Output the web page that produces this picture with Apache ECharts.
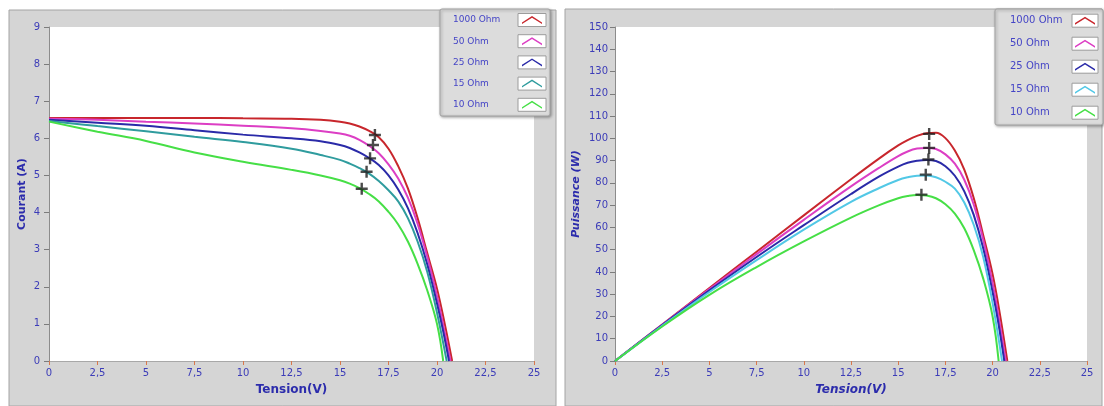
<!DOCTYPE html>
<html>
<head>
<meta charset="utf-8">
<script src="https://cdn.jsdelivr.net/npm/echarts@6/dist/echarts.min.js"></script>
<style>
html, body { margin: 0; padding: 0; background: #fff; }
#main { width: 1104px; height: 406px; }
</style>
</head>
<body>
<div id="main"></div>
<script>
var noms = ['1000 Ohm', '50 Ohm', '25 Ohm', '15 Ohm', '10 Ohm'];

// tensions communes (V)
var tension = [0, 2.5, 5, 7.5, 10, 12.5, 14, 15, 15.5, 16, 16.5, 17, 17.5, 18, 18.5, 19, 19.5, 20];
// fin de chaque courbe jusqu'a Vco
var tensionFin1000 = [20.4, 20.78];
var tensionFin50 = [20.35, 20.7];
var tensionFin25 = [20.3, 20.62];
var tensionFin15 = [20.5];
var tensionFin10 = [20.32];

// courant (A)
var courant1000 = [6.55, 6.55, 6.55, 6.55, 6.54, 6.53, 6.5, 6.45, 6.4, 6.32, 6.2, 6.03, 5.72, 5.25, 4.65, 3.85, 2.9, 1.95, 1.0, 0];
var courant50 = [6.53, 6.5, 6.45, 6.4, 6.34, 6.27, 6.2, 6.13, 6.07, 5.96, 5.8, 5.6, 5.3, 4.92, 4.4, 3.7, 2.8, 1.75, 0.9, 0];
var courant25 = [6.5, 6.42, 6.34, 6.22, 6.1, 6.0, 5.92, 5.82, 5.74, 5.62, 5.47, 5.28, 5.0, 4.62, 4.12, 3.45, 2.6, 1.55, 0.85, 0];
var courant15 = [6.47, 6.33, 6.19, 6.04, 5.9, 5.72, 5.55, 5.42, 5.32, 5.2, 5.05, 4.85, 4.6, 4.3, 3.85, 3.22, 2.4, 1.3, 0];
var courant10 = [6.45, 6.18, 5.93, 5.62, 5.37, 5.15, 5.0, 4.87, 4.78, 4.66, 4.5, 4.3, 4.02, 3.68, 3.22, 2.62, 1.9, 1.0, 0];

// puissance (W)
var puissance1000 = [0, 16.4, 32.8, 49.1, 65.4, 81.6, 91.0, 96.8, 99.2, 101.1, 102.3, 102.5, 100.1, 94.5, 86.0, 73.2, 56.6, 39.0, 20.4, 0];
var puissance50 = [0, 16.3, 32.3, 48.0, 63.4, 78.4, 86.8, 92.0, 94.1, 95.4, 95.7, 95.2, 92.8, 88.6, 81.4, 70.3, 54.6, 35.0, 18.3, 0];
var puissance25 = [0, 16.1, 31.7, 46.7, 61.0, 75.0, 82.9, 87.3, 89.0, 89.9, 90.3, 89.8, 87.5, 83.2, 76.2, 65.6, 50.7, 31.0, 17.3, 0];
var puissance15 = [0, 15.8, 31.0, 45.3, 59.0, 71.5, 77.7, 81.3, 82.5, 83.2, 83.3, 82.5, 80.5, 77.4, 71.2, 61.2, 46.8, 26.0, 0];
var puissance10 = [0, 15.5, 29.7, 42.2, 53.7, 64.4, 70.0, 73.1, 74.1, 74.6, 74.3, 73.1, 70.4, 66.2, 59.6, 49.8, 37.1, 20.0, 0];

// points de puissance max (croix)
var mppTensionI = [16.8, 16.7, 16.55, 16.37, 16.12];
var mppCourant = [6.09, 5.82, 5.46, 5.10, 4.64];
var mppTensionP = [16.64, 16.64, 16.6, 16.46, 16.23];
var mppPuissance = [102.0, 95.7, 90.5, 83.7, 74.7];

var couleursI = ['#c8262c', '#dc3ec4', '#2a2aa8', '#2f9c9e', '#46df46'];
var couleursP = ['#c8262c', '#dc3ec4', '#2a2aa8', '#52c8e6', '#46df46'];

var fins = [tensionFin1000, tensionFin50, tensionFin25, tensionFin15, tensionFin10];
var courants = [courant1000, courant50, courant25, courant15, courant10];
var puissances = [puissance1000, puissance50, puissance25, puissance15, puissance10];

var chevron = 'path://M0,6.4L10,0L20,6.4L20,8L10,1.7L0,8Z';
var croix = 'path://M4,0H6V4H10V6H6V10H4V6H0V4H4Z';
var bleuTxt = '#3c3cb8';
var police = 'DejaVu Sans';

function paires(tx, ty) {
	var r = [];
	for (var i = 0; i < ty.length; i++) {
		r.push([tx[i], ty[i]]);
	}
	return r;
}

function virgule(v) {
	return String(v).replace('.', ',');
}

var series = [];
for (var i = 0; i < noms.length; i++) {
	var vx = tension.concat(fins[i]);
	series.push({
		name: noms[i], type: 'line', xAxisIndex: 0, yAxisIndex: 0,
		data: paires(vx, courants[i]),
		showSymbol: false, smooth: 0.4,
		lineStyle: { width: 2, color: couleursI[i] },
		itemStyle: { color: couleursI[i] },
		z: 2
	});
	series.push({
		name: noms[i], type: 'line', xAxisIndex: 1, yAxisIndex: 1,
		data: paires(vx, puissances[i]),
		showSymbol: false, smooth: 0.4,
		lineStyle: { width: 2, color: couleursP[i] },
		itemStyle: { color: couleursP[i] },
		z: 2
	});
}
series.push({
	type: 'scatter', xAxisIndex: 0, yAxisIndex: 0, silent: true,
	data: paires(mppTensionI, mppCourant),
	symbol: croix, symbolSize: 12,
	itemStyle: { color: '#1e1e1e' }, z: 5
});
series.push({
	type: 'scatter', xAxisIndex: 1, yAxisIndex: 1, silent: true,
	data: paires(mppTensionP, mppPuissance),
	symbol: croix, symbolSize: 12,
	itemStyle: { color: '#1e1e1e' }, z: 5
});

function axeX(idx, italique) {
	return {
		type: 'value', gridIndex: idx, min: 0, max: 25, interval: 2.5,
		name: 'Tension(V)', nameLocation: 'middle', nameGap: 23,
		nameTextStyle: { color: '#2c2cac', fontWeight: 'bold', fontStyle: italique ? 'italic' : 'normal', fontSize: 12, fontFamily: police },
		axisLine: { show: true, lineStyle: { color: '#a8a8a8', width: 1 } },
		axisTick: { show: true, length: 4, lineStyle: { color: '#d8784c', width: 1 } },
		axisLabel: { color: bleuTxt, fontSize: 10, margin: 7, fontFamily: police, showMinLabel: true, showMaxLabel: true, formatter: virgule },
		splitLine: { show: false }
	};
}

function axeY(idx, max, pas, nom, gap, marge, italique) {
	return {
		type: 'value', gridIndex: idx, min: 0, max: max, interval: pas,
		name: nom, nameLocation: 'middle', nameGap: gap,
		nameTextStyle: { color: '#2c2cac', fontWeight: 'bold', fontStyle: italique ? 'italic' : 'normal', fontSize: 11, fontFamily: police },
		axisLine: { show: true, lineStyle: { color: '#8c8c8c', width: 1 } },
		axisTick: { show: true, length: 5, lineStyle: { color: '#7c7c7c', width: 1 } },
		axisLabel: { color: bleuTxt, fontSize: 10, margin: marge, fontFamily: police, showMinLabel: true, showMaxLabel: true },
		splitLine: { show: false }
	};
}

function legende(gauche, haut, ecart, largeurTxt, taille, couleurs) {
	var data = [];
	for (var i = 0; i < noms.length; i++) {
		data.push({ name: noms[i], itemStyle: { color: couleurs[i], borderWidth: 0 } });
	}
	return {
		orient: 'vertical', align: 'right', left: gauche, top: haut, padding: 0,
		itemGap: ecart, itemWidth: 20, itemHeight: 8, icon: chevron,
		selectedMode: false, data: data,
		formatter: function (n) { return '{t|' + n + '}'; },
		textStyle: { rich: { t: { width: largeurTxt, height: 14, align: 'left', fontSize: taille, color: '#4545c6', fontFamily: police, lineHeight: 14 } } }
	};
}

// cadres gris + fonds des legendes
var pasG = 21.2, hautG = 20, pasD = 23, hautD = 20.7;
var elements = [
	{ type: 'rect', z: -10, shape: { x: 9, y: 10, width: 547, height: 396 }, style: { fill: '#d5d5d5', stroke: '#a4a4a4', lineWidth: 1 } },
	{ type: 'rect', z: -10, shape: { x: 565, y: 9, width: 537, height: 397 }, style: { fill: '#d5d5d5', stroke: '#a4a4a4', lineWidth: 1 } },
	{ type: 'rect', z: 3, shape: { x: 440, y: 9, width: 110, height: 107, r: 2 }, style: { fill: '#dcdcdc', stroke: '#a2a2a2', lineWidth: 1, shadowBlur: 3, shadowOffsetX: 1, shadowOffsetY: 1, shadowColor: 'rgba(0,0,0,0.35)' } },
	{ type: 'rect', z: 3, shape: { x: 995, y: 9, width: 108, height: 116, r: 2 }, style: { fill: '#dcdcdc', stroke: '#a2a2a2', lineWidth: 1, shadowBlur: 3, shadowOffsetX: 1, shadowOffsetY: 1, shadowColor: 'rgba(0,0,0,0.35)' } }
];
for (var k = 0; k < noms.length; k++) {
	elements.push({ type: 'rect', z: 3.5, shape: { x: 518, y: hautG + k * pasG - 6.5, width: 28, height: 13 }, style: { fill: '#fff', stroke: '#9c9c9c', lineWidth: 1 } });
	elements.push({ type: 'rect', z: 3.5, shape: { x: 1072, y: hautD + k * pasD - 6.5, width: 26, height: 13 }, style: { fill: '#fff', stroke: '#9c9c9c', lineWidth: 1 } });
}

var chart = echarts.init(document.getElementById('main'), null, { renderer: 'canvas' });
var option = {
	animation: false,
	backgroundColor: '#fff',
	textStyle: { fontFamily: police },
	graphic: { elements: elements },
	grid: [
		{ left: 49, top: 27, width: 485, height: 334, show: true, backgroundColor: '#fff', borderWidth: 0 },
		{ left: 615, top: 27, width: 472, height: 334, show: true, backgroundColor: '#fff', borderWidth: 0 }
	],
	xAxis: [axeX(0, false), axeX(1, true)],
	yAxis: [
		axeY(0, 9, 1, 'Courant (A)', 21, 9, false),
		axeY(1, 150, 10, 'Puissance (W)', 33, 7, true)
	],
	legend: [
		legende(453, hautG - 7, pasG - 14, 64, 9, couleursI),
		legende(1010, hautD - 7, pasD - 14, 60, 10, couleursP)
	],
	series: series
};
chart.setOption(option);
</script>
</body>
</html>
